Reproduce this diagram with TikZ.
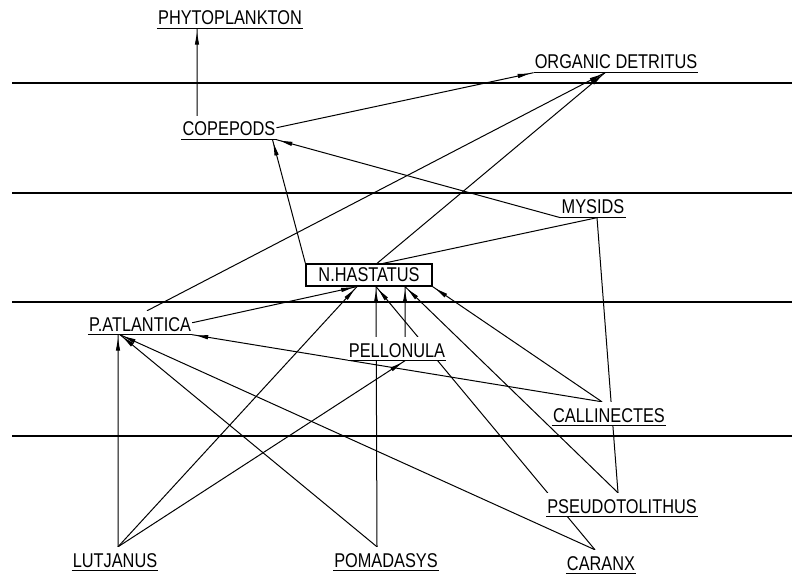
\documentclass[tikz,border=0pt]{standalone}
\usepackage{fontspec}
\newfontfamily\plotfont[FakeStretch=0.82]{Liberation Sans}
\usetikzlibrary{arrows.meta, decorations.markings}
\pgfdeclarelayer{background}
\pgfsetlayers{background,main}
\tikzset{
  taxon/.style={font=\plotfont\fontsize{20}{21}\selectfont, fill=white, anchor=base,
    inner xsep=1bp, inner ysep=3.5bp, text height=16.5bp, text depth=0bp,
    append after command={(\tikzlastnode.south west) edge[line width=1.1bp] (\tikzlastnode.south east)}},
  taxonbox/.style={font=\plotfont\fontsize{20}{21}\selectfont, fill=white, draw, line width=1.2bp,
    minimum width=126bp, minimum height=22bp, inner sep=0pt},
  eats/.style={line width=1bp, postaction={decorate}, decoration={markings,
    mark=at position -4bp with {\arrow{Triangle[length=12bp,width=4bp]}}}},
  links/.style={line width=1bp},
  zone/.style={line width=1.2bp}
}

\begin{document}
\begin{tikzpicture}[x=1bp,y=-1bp]
\useasboundingbox (0,0) rectangle (792,576);
% the species, top to bottom
\node [taxon] (phyto) at (230,25)  {PHYTOPLANKTON};
\node [taxon] (det)   at (616,69)  {ORGANIC DETRITUS};
\node [taxon] (cop)   at (229,136) {COPEPODS};
\node [taxon] (mys)   at (593,214) {MYSIDS};
\node [taxonbox] (nh) at (369,275) {N.HASTATUS};
\node [taxon] (patl)  at (140,331) {P.ATLANTICA};
\node [taxon] (pel)   at (397,357) {PELLONULA};
\node [taxon] (cal)   at (609,422) {CALLINECTES};
\node [taxon] (pse)   at (622,513) {PSEUDOTOLITHUS};
\node [taxon] (lut)   at (115,567) {LUTJANUS};
\node [taxon] (pom)   at (386,567) {POMADASYS};
\node [taxon] (car)   at (601,570) {CARANX};

\begin{pgfonlayer}{background}
% depth zones
\draw [zone] (12,83)  -- (792,83);
\draw [zone] (12,193) -- (792,193);
\draw [zone] (12,302) -- (792,302);
\draw [zone] (12,436) -- (792,436);
% who eats whom
\draw [eats] ([xshift=-32bp]cop.north) -- ([xshift=-33bp]phyto.south);
\draw [eats] (cop.east) -- (det.south west);
\draw [eats] (mys.south west) -- (cop.south east);
\draw [eats] (nh.north west) -- ([xshift=-4bp]cop.south east);
\draw [eats] ([xshift=8bp]nh.north) -- ([xshift=-11bp]det.south);
\draw [links] ([xshift=14bp]nh.north) -- ([xshift=4bp]mys.south);
\draw [eats] ([xshift=7bp]patl.north) -- ([xshift=-11bp]det.south);
\draw [eats] (patl.east) -- ([xshift=-12bp]nh.south);
\draw [eats] ([xshift=-7bp]cal.north) -- (patl.south east);
\draw [eats] ([xshift=-7bp]cal.north) -- (nh.south east);
\draw [eats] ([xshift=8bp]pel.north) -- ([xshift=36bp]nh.south);
\draw [eats] ([xshift=3bp]lut.north) -- ([xshift=-22bp]patl.south);
\draw [eats] ([xshift=3bp]lut.north) -- ([xshift=-12bp]nh.south);
\draw [eats] ([xshift=3bp]lut.north) -- ([xshift=8bp]pel.south);
\draw [eats] ([xshift=-9bp]pom.north) -- ([xshift=7bp]nh.south);
\draw [eats] ([xshift=-9bp]pom.north) -- ([xshift=-20bp]patl.south);
\draw [eats] ([xshift=-6bp]car.north) -- ([xshift=-20bp]patl.south);
\draw [eats] ([xshift=-6bp]car.north) -- ([xshift=7bp]nh.south);
\draw [eats] ([xshift=-4bp]pse.north) -- ([xshift=36bp]nh.south);
\draw [links] ([xshift=-4bp]pse.north) -- ([xshift=4bp]mys.south);
\end{pgfonlayer}
\end{tikzpicture}
\end{document}
